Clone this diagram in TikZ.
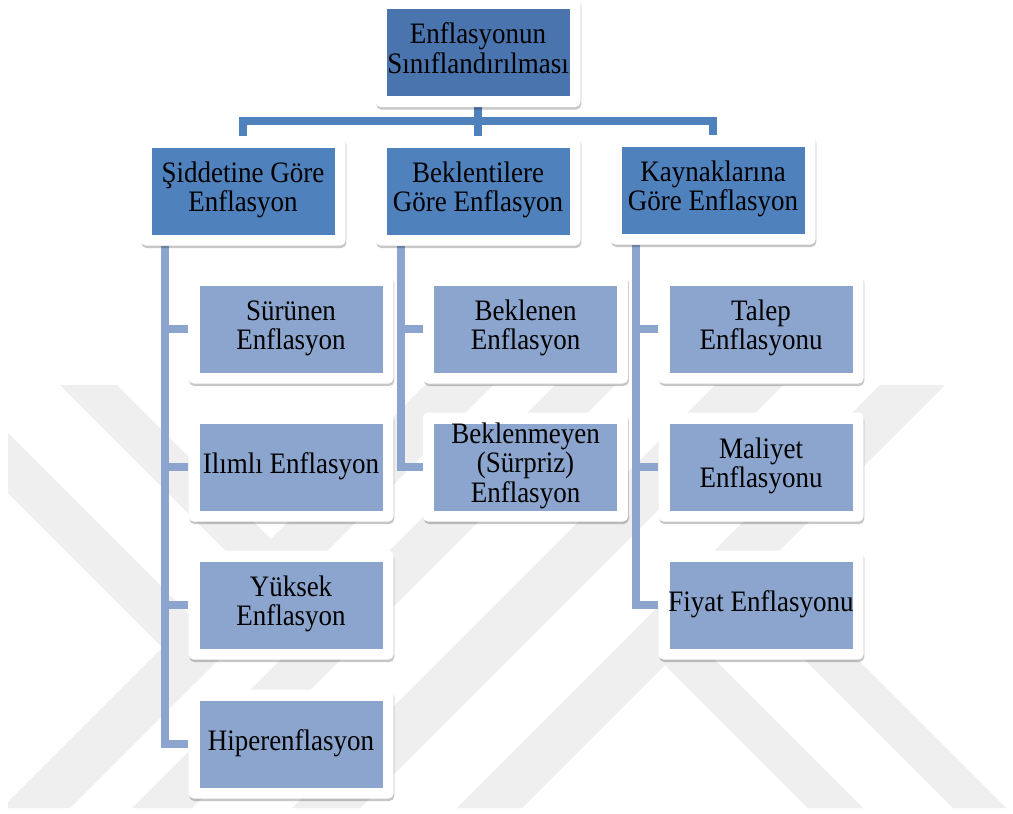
\documentclass[tikz,border=0pt]{standalone}
\usepackage{fontspec}
\setmainfont{Liberation Serif}
\usepackage{graphicx}
\usetikzlibrary{shadows,backgrounds}
\pgfdeclarelayer{watermark}
\pgfsetlayers{watermark,background,main}

\definecolor{rootblue}{RGB}{73,116,173}
\definecolor{midblue}{RGB}{79,129,189}
\definecolor{leafblue}{RGB}{139,165,206}
\definecolor{wmgray}{RGB}{239,239,239}

% centred multi-line label, slightly stretched vertically
\newcommand{\boxlines}[1]{\scalebox{1}[1.1]{\begin{tabular}{@{}c@{}}#1\end{tabular}}}

\tikzset{
  card/.style={rectangle, rounded corners=5pt, fill=white, inner sep=0pt,
    minimum width=205pt, minimum height=109pt,
    drop shadow={shadow xshift=0.8pt, shadow yshift=-2.5pt, opacity=0.22, fill=black},
    font=\fontsize{27}{27}\selectfont, text=black,
    path picture={\fill[#1, sharp corners]
      ([xshift=11pt,yshift=11pt]path picture bounding box.south west) rectangle
      ([xshift=-11pt,yshift=-11pt]path picture bounding box.north east);}},
  hub/.style={draw=midblue, line width=8pt},
  stem/.style={draw=leafblue, line width=8pt}
}

\begin{document}
\begin{tikzpicture}[x=1pt,y=-1pt]
\useasboundingbox (0,0) rectangle (1013,814);

% white page and the faint diagonal background emblem
\begin{pgfonlayer}{watermark}
  \fill[white] (0,0) rectangle (1013,814);
  \begin{scope}
    \clip (8,385) rectangle (1006,808);
    % long rising strokes
    \foreach \a/\b in {810/878, 940/1000, 1100/1168, 1265/1330}
      \fill[wmgray] ({\a-385},385) -- ({\b-385},385) -- ({\b-808},808) -- ({\a-808},808) -- cycle;
    % falling strokes that end on the left rising stroke
    \foreach \a/\b in {-485/-425, -325/-268}
      \fill[wmgray] ({\a+385},385) -- ({\b+385},385)
        -- ({(878+(\b))/2},{(878-(\b))/2}) -- ({(878+(\a))/2},{(878-(\a))/2}) -- cycle;
    % falling strokes that start on the right rising stroke
    \foreach \a/\b in {0/55, 145/198}
      \fill[wmgray] ({(1265+\a)/2},{(1265-\a)/2}) -- ({(1265+\b)/2},{(1265-\b)/2})
        -- ({\b+808},808) -- ({\a+808},808) -- cycle;
  \end{scope}
\end{pgfonlayer}

% top level
\node[card=rootblue] (root) at (478,52.5) {\boxlines{Enflasyonun\\Sınıflandırılması}};

% categories
\node[card=midblue] (sid) at (243,191) {\boxlines{Şiddetine Göre\\Enflasyon}};
\node[card=midblue] (bek) at (478,191) {\boxlines{Beklentilere\\Göre Enflasyon}};
\node[card=midblue] (kay) at (713,190) {\boxlines{Kaynaklarına\\Göre Enflasyon}};

% by severity
\node[card=leafblue] (sur) at (291,329) {\boxlines{Sürünen\\Enflasyon}};
\node[card=leafblue] (ili) at (291,467) {\boxlines{Ilımlı Enflasyon}};
\node[card=leafblue] (yuk) at (291,605) {\boxlines{Yüksek\\Enflasyon}};
\node[card=leafblue] (hip) at (291,744) {\boxlines{Hiperenflasyon}};

% by expectations
\node[card=leafblue] (bkl) at (525.5,329) {\boxlines{Beklenen\\Enflasyon}};
\node[card=leafblue] (bkm) at (525.5,467) {\boxlines{Beklenmeyen\\(Sürpriz)\\Enflasyon}};

% by sources
\node[card=leafblue] (tal) at (761,329) {\boxlines{Talep\\Enflasyonu}};
\node[card=leafblue] (mal) at (761,467) {\boxlines{Maliyet\\Enflasyonu}};
\node[card=leafblue] (fiy) at (761,605) {\boxlines{Fiyat Enflasyonu}};

% connectors
\coordinate (bar) at (479.5,121);
\coordinate (colL) at (165,0);
\coordinate (colM) at (401,0);
\coordinate (colR) at (636,0);

\begin{scope}[on background layer]
  \draw[hub] (root.south) -- (root.south |- bar);
  \draw[hub] (sid.north) |- (bar) -| (kay.north);
  \draw[hub] (bek.north) -- (bek.north |- bar);

  \draw[stem] (sid.south -| colL) |- (hip.west);
  \draw[stem] (colL |- sur.west) -- (sur.west);
  \draw[stem] (colL |- ili.west) -- (ili.west);
  \draw[stem] (colL |- yuk.west) -- (yuk.west);

  \draw[stem] (bek.south -| colM) |- (bkm.west);
  \draw[stem] (colM |- bkl.west) -- (bkl.west);

  \draw[stem] (kay.south -| colR) |- (fiy.west);
  \draw[stem] (colR |- tal.west) -- (tal.west);
  \draw[stem] (colR |- mal.west) -- (mal.west);
\end{scope}
\end{tikzpicture}
\end{document}
